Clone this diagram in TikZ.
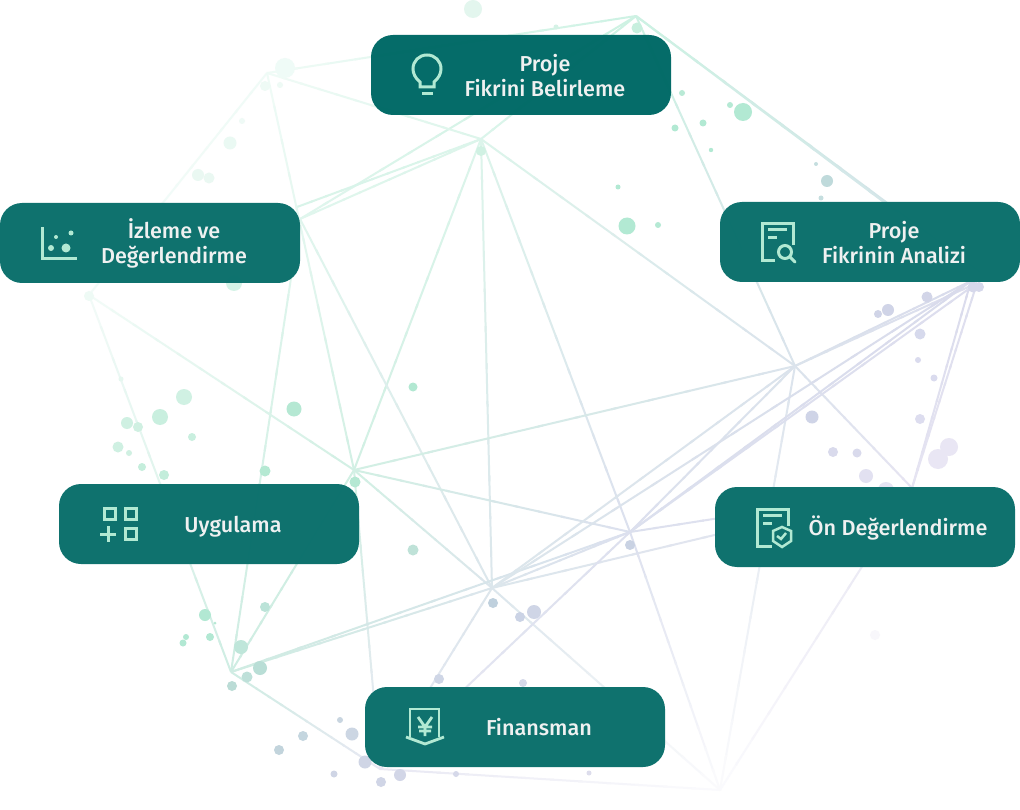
\documentclass[tikz,border=0pt]{standalone}
\usepackage{fontspec}
\setmainfont{Fira Sans}[UprightFont=* Medium]
\usetikzlibrary{calc}
% hub colours
\definecolor{cA}{HTML}{CDF2E3}
\definecolor{cB}{HTML}{F0FBF7}
\definecolor{cC}{HTML}{DCF5EB}
\definecolor{cD}{HTML}{D8F4E9}
\definecolor{cDb}{HTML}{E0F6ED}
\definecolor{cE}{HTML}{D9DBEC}
\definecolor{cEb}{HTML}{DDDEEE}
\definecolor{cP}{HTML}{D5DFEA}
\definecolor{cPb}{HTML}{D9E2EC}
\definecolor{cF}{HTML}{DBE3EC}
\definecolor{cG}{HTML}{D2F0E4}
\definecolor{cH}{HTML}{DCE0EE}
\definecolor{cI}{HTML}{DCE6EC}
\definecolor{cJ}{HTML}{CFEDE3}
\definecolor{cK}{HTML}{FBFBFD}
\definecolor{cL}{HTML}{F2FBF8}
\definecolor{cN}{HTML}{E6E4F2}
\definecolor{cQ}{HTML}{E8E8F3}
\definecolor{boxc}{HTML}{0B706C}
\definecolor{boxtop}{HTML}{006A66}
\definecolor{iconc}{HTML}{B2E9D3}
\definecolor{txtc}{HTML}{EFF1F1}
\newcommand{\edge}[2]{%
  \foreach \i in {0,...,11}{%
    \pgfmathsetmacro{\ta}{\i/12}%
    \pgfmathsetmacro{\tb}{min(1,(\i+1.15)/12)}%
    \pgfmathsetmacro{\pc}{100*(\i+0.5)/12}%
    \draw[netline,draw=c#2!\pc!c#1] ($(#1)!\ta!(#2)$) -- ($(#1)!\tb!(#2)$);
  }}
\tikzset{
  netline/.style={line width=2pt},
  box/.style={fill=boxc,rounded corners=22pt,minimum width=300pt,minimum height=80pt,inner sep=0pt,fill opacity=.98},
  ico/.style={draw=iconc,line width=3pt,line join=miter},
  lab/.style={text=txtc,align=center,inner sep=0pt,font=\fontsize{21.6}{25}\selectfont},
}
\begin{document}
\begin{tikzpicture}[x=1pt,y=-1pt]
\useasboundingbox (0,0) rectangle (1020,810);
\fill[white] (0,0) rectangle (1020,810);
% hubs
\coordinate (A) at (636,16);
\coordinate (B) at (267,73);
\coordinate (C) at (481,139);
\coordinate (D) at (297,207);
\coordinate (Db) at (300,219);
\coordinate (E) at (971,281);
\coordinate (Eb) at (977,283);
\coordinate (P) at (980,272);
\coordinate (Pb) at (985,278);
\coordinate (F) at (795,366);
\coordinate (G) at (354,470);
\coordinate (H) at (630,532);
\coordinate (I) at (492,588);
\coordinate (J) at (231,672);
\coordinate (K) at (720,790);
\coordinate (L) at (89,295);
\coordinate (N) at (912,488);
\coordinate (Q) at (380,769);
% network
\edge{A}{B}\edge{A}{C}\edge{A}{Db}\edge{A}{F}\edge{A}{P}\edge{A}{Pb}
\edge{C}{B}\edge{C}{D}\edge{C}{Db}\edge{C}{G}\edge{C}{I}\edge{C}{H}\edge{C}{F}
\edge{B}{L}\edge{B}{G}
\edge{Db}{I}\edge{Db}{J}
\edge{L}{G}\edge{L}{J}
\edge{G}{J}\edge{G}{F}\edge{G}{I}\edge{G}{H}\edge{G}{Q}
\edge{J}{Q}\edge{J}{I}\edge{J}{H}\edge{Q}{K}
\edge{H}{N}\edge{I}{N}\edge{N}{E}\edge{N}{Eb}
\edge{F}{E}\edge{F}{Eb}\edge{F}{H}\edge{F}{I}\edge{F}{N}\edge{F}{K}
\edge{H}{E}\edge{H}{Eb}\edge{I}{E}
\edge{H}{K}\edge{H}{I}\edge{I}{K}\edge{H}{Q}\edge{I}{Q}\edge{K}{N}
% dots
\foreach \x/\y/\r/\c in {
473/9/9/E3F6EE,556/27/2.5/D5F2E6,637/28/5.5/C7EFDE,682/93/3/B9EAD6,730/105/3/B5E9D4,
743/112/9/B2E9D3,703/123/3.5/B2E9D3,675/128/3.5/B2E9D3,711/150/2.2/B2E9D3,618/187/2.5/B2E9D3,
627/226/8.5/B2E9D3,658/225/3/B5E9D4,481/151/5/D0F1E3,816/164/2/C5DEDF,827/181/6/BFDADB,821/198/2.5/C5DEDF,
285/68/10/EFFBF7,265/86/5/EEFAF5,280/85/3/EEFAF5,242/121/3/EFFAF6,230/143/6.5/EAF9F3,198/175/6/EAF8F2,209/178/5.5/EAF8F2,
89/296/5/EEFAF5,234/283/8/D5F3E7,121/379/2.5/E6F7F0,184/397/8/D0F1E3,160/417/8/C9EFDF,127/423/6/CFF0E2,138/427/5/D0F0E2,
118/447/5.5/CFF0E2,129/453/3/D0F0E2,192/437/4/C9EFDF,142/467/4/C5EEDC,164/475/5/C3EDDB,294/409/7.5/B5E8D3,413/387/4.5/B2E8D2,
265/471/5.5/B5E9D3,355/482/5.5/B5E8D3,413/550/5.5/BFE2D8,
205/615/6/B2E8D3,215/623/1.5/B5E8D3,186/637/3/B2E8D3,183/643/3.5/B2E8D3,210/637/4/B2E8D3,265/607/5/BBE3D8,241/647/7/BFE6DA,
260/668/7/B9DED6,247/677/5.5/BEE0D9,232/686/5/BBDCD6,340/720/3/C8D5E0,303/736/5/C4D6DF,279/750/5/C2D4DC,352/734/6.5/CCD6E3,
365/762/6.5/CFD5E5,334/774/3.5/CFD5E5,381/782/5/D0D5E6,400/775/6/D2D6E7,456/774/3/D5D8E9,589/773/2.5/DDDDEC,439/679/5/CFD6E6,523/683/4/D5D9E9,
493/603/5/BFD0DD,520/617/5/CBD3E5,534/612/7/CFD5E6,630/545/5/C9D2E3,
888/310/6/D0D4E7,878/314/4/D0D4E7,927/297/5.5/D2D5E8,973/287/5.5/D6D8EB,979/287/5/D6D8EB,920/334/5.5/D6D9EC,918/360/3/DADBEE,934/378/3.5/DADBEE,
920/419/5/DDDDEF,812/417/6.5/CFD4E7,833/452/5/D9DAEC,857/453/4.5/D9DAEC,866/476/7/E2E1F1,886/490/8/E6E4F3,949/447/9/E9E6F4,938/459/10/E9E6F4,875/635/5/F8F7FB}{
  \definecolor{dotc}{HTML}{\c}
  \fill[dotc] (\x,\y) circle[radius=\r];
}
% boxes
\node[box,fill=boxtop] (b1) at (521,75) {};
\node[box] (b2) at (870,242) {};
\node[box] (b3) at (865,527) {};
\node[box] (b4) at (515,727) {};
\node[box] (b5) at (209,524) {};
\node[box] (b6) at (150,243) {};
% bulb
\draw[ico] (420,87) -- (420,82) .. controls (415,78) and (413,73) .. (413,69)
  .. controls (413,61) and (419,55) .. (427,55) .. controls (435,55) and (441,61) .. (441,69)
  .. controls (441,73) and (439,78) .. (434,82) -- (434,87) -- cycle;
\draw[ico] (422,94) -- (433,94);
% doc + search
\draw[ico] (793,245) -- (793,224) -- (762,224) -- (762,261) -- (775,261);
\draw[ico] (768,230) -- (787,230) (768,238) -- (777,238);
\draw[ico] (785,252) circle[radius=6.5];
\draw[ico,line cap=round] (790,257) -- (795,262);
% doc + shield
\draw[ico] (788,526) -- (788,509) -- (757,509) -- (757,546) -- (772,546);
\draw[ico] (763,515) -- (782,515) (763,523) -- (772,523);
\draw[ico,line width=2.5pt] (782,527) -- (791,531) -- (791,541) -- (782,547) -- (773,541) -- (773,531) -- cycle;
\draw[ico,line width=2.5pt] (777,536) -- (781,539) -- (786,533);
% yen
\draw[ico,line width=2.8pt] (410,737) -- (410,709) -- (439,709) -- (439,737);
\draw[ico,line width=2.8pt] (406,737) -- (425,744) -- (444,737);
\draw[ico,line width=2.8pt] (418,717) -- (425,727) -- (432,717) (425,727) -- (425,736) (418,727) -- (432,727) (419,731) -- (431,731);
% apps
\draw[ico] (104,508) rectangle (115,519);
\draw[ico] (125,508) rectangle (136,519);
\draw[ico] (125,528) rectangle (136,539);
\draw[ico] (100,534) -- (116,534) (108,526) -- (108,542);
% chart
\draw[ico] (42,227) -- (42,259) -- (77,259);
\fill[iconc] (71,233) circle[radius=2.5] (56,237) circle[radius=2] (51,248) circle[radius=3] (66,248) circle[radius=4.5];
% labels
\node[lab] (t1) at (545,75.5) {Proje\\Fikrini Belirleme};
\node[lab] (t2) at (894,242.5) {Proje\\Fikrinin Analizi};
\node[lab] (t3) at (898,528) {Ön Değerlendirme};
\node[lab] (t4) at (539,727.5) {Finansman};
\node[lab] (t5) at (233,526.5) {Uygulama};
\node[lab] (t6) at (174,243.5) {İzleme ve\\Değerlendirme};
\end{tikzpicture}
\end{document}
